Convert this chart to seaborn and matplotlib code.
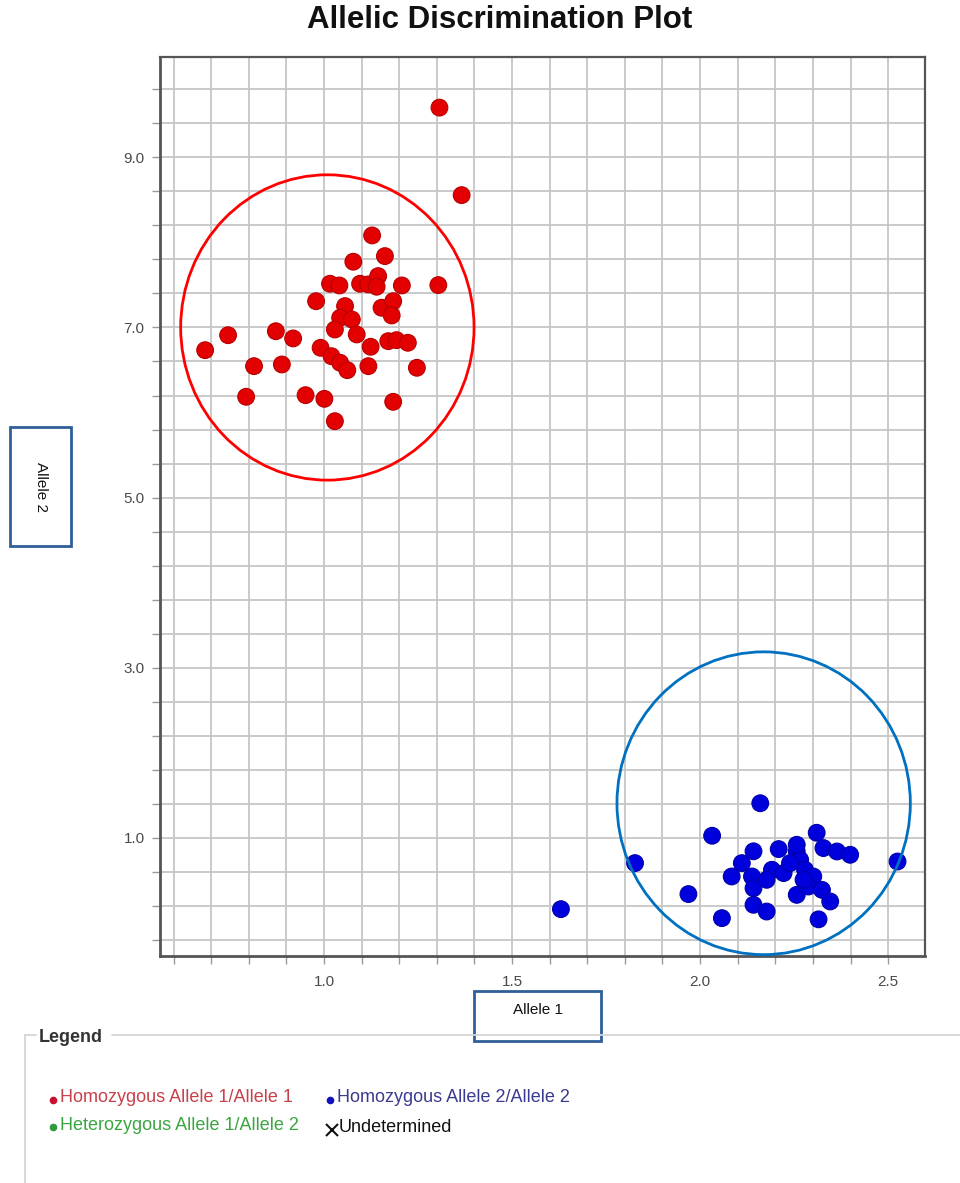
import numpy as np
import pandas as pd
import matplotlib
matplotlib.use("Agg")
import matplotlib.pyplot as plt
import seaborn as sns
from matplotlib.patches import Ellipse, Rectangle
from matplotlib.lines import Line2D
from matplotlib.ticker import FixedLocator

# Allele 1 / Allele 2 signal for samples called Homozygous Allele 1/Allele 1
hom1_allele1 = [1.307, 1.366, 1.128, 1.078, 1.162, 1.016, 1.041, 1.096, 1.118, 1.144,
                1.140, 1.207, 1.304, 0.979, 1.056, 1.153, 1.184, 1.180, 1.043, 1.074,
                1.029, 1.087, 0.745, 0.872, 0.918, 0.684, 0.991, 1.020, 1.043, 1.062,
                1.124, 1.118, 1.171, 1.193, 1.223, 1.247, 0.814, 0.888, 0.793, 0.951,
                1.001, 1.029, 1.184]
hom1_allele2 = [9.585, 8.556, 8.082, 7.773, 7.839, 7.514, 7.494, 7.514, 7.506, 7.604,
                7.479, 7.494, 7.498, 7.309, 7.251, 7.232, 7.309, 7.141, 7.114, 7.094,
                6.976, 6.918, 6.909, 6.956, 6.871, 6.733, 6.761, 6.662, 6.585, 6.498,
                6.773, 6.545, 6.839, 6.851, 6.820, 6.526, 6.545, 6.565, 6.185, 6.204,
                6.161, 5.898, 6.126]

# Samples called Homozygous Allele 2/Allele 2
hom2_allele1 = [1.630, 1.827, 1.969, 2.032, 2.058, 2.160, 2.142, 2.209, 2.310, 2.525,
                2.315, 2.257, 2.328, 2.364, 2.399, 2.111, 2.084, 2.138, 2.142, 2.191,
                2.177, 2.222, 2.266, 2.279, 2.301, 2.257, 2.288, 2.324, 2.346, 2.142,
                2.177, 2.275, 2.239, 2.257]
hom2_allele2 = [0.161, 0.702, 0.338, 1.024, 0.055, 1.406, 0.841, 0.867, 1.059, 0.721,
                0.041, 0.839, 0.879, 0.839, 0.800, 0.702, 0.545, 0.545, 0.408, 0.624,
                0.506, 0.585, 0.741, 0.624, 0.545, 0.329, 0.427, 0.388, 0.251, 0.212,
                0.133, 0.506, 0.702, 0.918]

call_names = ["Homozygous Allele 1/Allele 1", "Homozygous Allele 2/Allele 2"]
x_tick_values = [1.0, 1.5, 2.0, 2.5]
y_tick_values = [1.0, 3.0, 5.0, 7.0, 9.0]

df = pd.DataFrame({
    "Allele 1": hom1_allele1 + hom2_allele1,
    "Allele 2": hom1_allele2 + hom2_allele2,
    "Call": [call_names[0]] * len(hom1_allele1) + [call_names[1]] * len(hom2_allele1),
})

sns.set_theme(style="white")
plt.rcParams["font.family"] = ["Liberation Sans", "DejaVu Sans"]

W, H = 960, 1183
fig = plt.figure(figsize=(W / 100, H / 100), dpi=100)
fig.patch.set_facecolor("white")


def fx(px):
    return px / W


def fy(py):
    return 1 - py / H


ax = fig.add_axes([fx(160), fy(956), fx(925) - fx(160), fy(57) - fy(956)])

sns.scatterplot(data=df, x="Allele 1", y="Allele 2", hue="Call",
                palette={call_names[0]: "#e30000", call_names[1]: "#0000dc"},
                s=145, linewidth=0.8, legend=False, ax=ax, zorder=3)
coll = ax.collections[-1]
edge_map = {call_names[0]: "#b80000", call_names[1]: "#0000a8"}
coll.set_edgecolor([edge_map[c] for c in df["Call"]])

ax.set_xlim(0.564, 2.598)
ax.set_ylim(-0.39, 10.18)

# Fine grid: every 0.1 on Allele 1, every 0.4 on Allele 2
ax.xaxis.set_major_locator(FixedLocator(x_tick_values))
ax.xaxis.set_minor_locator(FixedLocator(np.round(np.arange(0.6, 2.6, 0.1), 2)))
ax.yaxis.set_major_locator(FixedLocator(y_tick_values))
ax.yaxis.set_minor_locator(FixedLocator(np.round(np.arange(-0.2, 10.2, 0.4), 2)))
ax.set_xticklabels([f"{v:.1f}" for v in x_tick_values])
ax.set_yticklabels([f"{v:.1f}" for v in y_tick_values])
ax.grid(True, which="both", color="#c6c6c6", linewidth=1.3)
ax.set_axisbelow(True)
ax.tick_params(which="both", direction="out", length=6, width=1, color="#9a9a9a",
               labelsize=11, labelcolor="#4a4a4a", bottom=True, left=True)
ax.tick_params(axis="y", pad=5)
ax.tick_params(axis="x", pad=8)
for side, sp in ax.spines.items():
    sp.set_color("#555555")
    sp.set_linewidth(2 if side in ("left", "bottom") else 1.6)
ax.set_xlabel("")
ax.set_ylabel("")

# Cluster outlines
ax.add_patch(Ellipse((1.009, 7.0), 0.78, 3.59, fill=False, edgecolor="#ff0000",
                     linewidth=2, zorder=4))
ax.add_patch(Ellipse((2.169, 1.406), 0.78, 3.56, fill=False, edgecolor="#0070c0",
                     linewidth=2, zorder=4, clip_on=False))

fig.text(fx(500), fy(20), "Allelic Discrimination Plot", ha="center", va="center",
         fontsize=22.5, fontweight="bold", color="#111111",
         family=["Liberation Sans Narrow", "Liberation Sans", "DejaVu Sans"])

# Axis titles in boxes
box_color = "#2f5f98"
fig.add_artist(Rectangle((fx(10), fy(546)), fx(71) - fx(10), fy(427) - fy(546),
                         transform=fig.transFigure, fill=False, edgecolor=box_color,
                         linewidth=2))
fig.text(fx(41), fy(487), "Allele 2", rotation=270, ha="center", va="center",
         fontsize=11, color="#111111")
fig.add_artist(Rectangle((fx(474), fy(1041)), fx(601) - fx(474), fy(991) - fy(1041),
                         transform=fig.transFigure, fill=False, edgecolor=box_color,
                         linewidth=2))
fig.text(fx(538), fy(1010), "Allele 1", ha="center", va="center",
         fontsize=11, color="#111111")

# Legend panel
frame = "#d6d6d6"
fig.add_artist(Line2D([fx(25), fx(36)], [fy(1035), fy(1035)], transform=fig.transFigure,
                      color=frame, linewidth=1.3))
fig.add_artist(Line2D([fx(112), fx(960)], [fy(1035), fy(1035)], transform=fig.transFigure,
                      color=frame, linewidth=1.3))
fig.add_artist(Line2D([fx(25), fx(25)], [fy(1035), fy(1183)], transform=fig.transFigure,
                      color=frame, linewidth=1.3))
fig.text(fx(39), fy(1037), "Legend", ha="left", va="center", fontsize=13,
         fontweight="bold", color="#333333")

legend_items = [
    (53, 1100, "#c8102e", "o", "Homozygous Allele 1/Allele 1", "#c8404a"),
    (330, 1100, "#1010c0", "o", "Homozygous Allele 2/Allele 2", "#3a3a90"),
    (53, 1127, "#2e9a3e", "o", "Heterozygous Allele 1/Allele 2", "#3aa640"),
    (332, 1130, "#111111", "x", "Undetermined", "#111111"),
]
for px, py, mc, mk, label, tc in legend_items:
    fig.add_artist(Line2D([fx(px)], [fy(py)], transform=fig.transFigure, marker=mk,
                          markersize=5.5 if mk == "o" else 8, color=mc,
                          markeredgewidth=1.5 if mk == "x" else 0, linestyle="none"))
    fig.text(fx(px + 7), fy(py - 2), label, ha="left", va="center", fontsize=13,
             color=tc)

fig.savefig("out.png", dpi=100, facecolor="white")
